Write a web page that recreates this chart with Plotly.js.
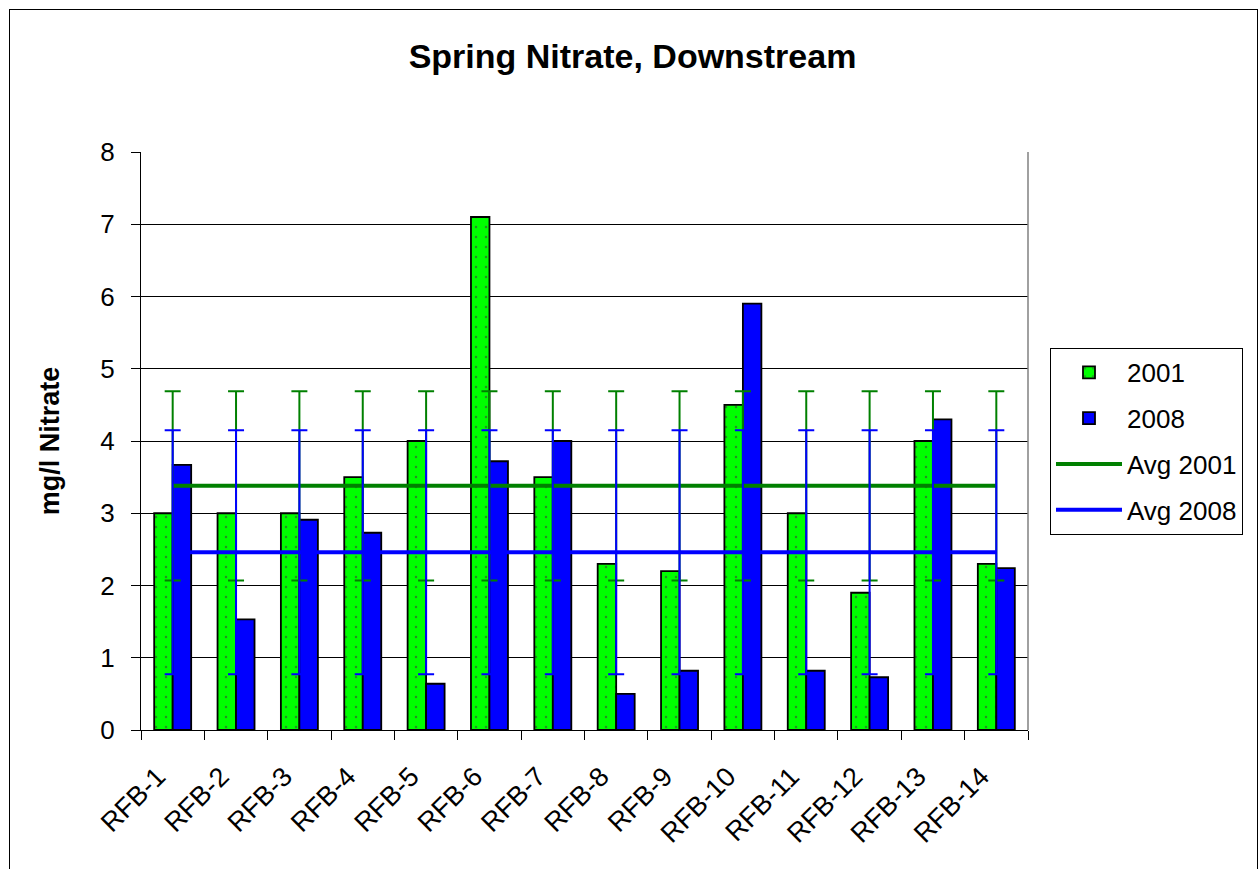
<!DOCTYPE html>
<html>
<head>
<meta charset="utf-8">
<script src="https://cdn.plot.ly/plotly-3.0.1.min.js"></script>
<style>
  html, body { margin: 0; padding: 0; background: #fff; overflow: hidden; }
  #wrap { position: relative; width: 1260px; height: 869px; }
  #chart { position: absolute; left: 0; top: 0; width: 1260px; height: 869px; }
  #frame { position: absolute; left: 9px; top: 9px; width: 1247px; height: 900px;
           border: 1px solid #000; pointer-events: none; }
</style>
</head>
<body>
<div id="wrap">
  <div id="chart"></div>
  <div id="frame"></div>
</div>
<script>
// ---- data ----
var categories = ['RFB-1', 'RFB-2', 'RFB-3', 'RFB-4', 'RFB-5', 'RFB-6', 'RFB-7',
                  'RFB-8', 'RFB-9', 'RFB-10', 'RFB-11', 'RFB-12', 'RFB-13', 'RFB-14'];
var nitrate2001 = [3.0, 3.0, 3.0, 3.5, 4.0, 7.1, 3.5, 2.3, 2.2, 4.5, 3.0, 1.9, 4.0, 2.3];
var nitrate2008 = [3.67, 1.53, 2.91, 2.73, 0.64, 3.72, 4.0, 0.5, 0.82, 5.9, 0.82, 0.73, 4.3, 2.24];
var avg2001 = [3.38, 3.38, 3.38, 3.38, 3.38, 3.38, 3.38, 3.38, 3.38, 3.38, 3.38, 3.38, 3.38, 3.38];
var sd2001  = [1.31, 1.31, 1.31, 1.31, 1.31, 1.31, 1.31, 1.31, 1.31, 1.31, 1.31, 1.31, 1.31, 1.31];
var avg2008 = [2.46, 2.46, 2.46, 2.46, 2.46, 2.46, 2.46, 2.46, 2.46, 2.46, 2.46, 2.46, 2.46, 2.46];
var sd2008  = [1.69, 1.69, 1.69, 1.69, 1.69, 1.69, 1.69, 1.69, 1.69, 1.69, 1.69, 1.69, 1.69, 1.69];
var yTicks = [0, 1, 2, 3, 4, 5, 6, 7, 8];

var FONT = 'Arial, "Liberation Sans", sans-serif';

var traces = [
  {
    type: 'bar', name: '2001', x: categories, y: nitrate2001,
    legendgroup: 'g1',
    marker: {
      color: '#00FF00',
      line: { color: '#000', width: 1.8 },
      pattern: { shape: '.', bgcolor: '#00FF00', fgcolor: '#2a8a2a', size: 10, solidity: 0.05, fillmode: 'replace' }
    },
    hoverinfo: 'x+y'
  },
  {
    type: 'bar', name: '2008', x: categories, y: nitrate2008,
    legendgroup: 'g2',
    marker: { color: '#0000FF', line: { color: '#000', width: 1.8 } },
    hoverinfo: 'x+y'
  },
  {
    type: 'scatter', mode: 'lines', name: 'Avg 2001', x: categories, y: avg2001,
    legendgroup: 'g3',
    line: { color: '#008000', width: 4 },
    error_y: { type: 'data', array: sd2001, visible: true, color: '#008000', thickness: 2, width: 8 }
  },
  {
    type: 'scatter', mode: 'lines', name: 'Avg 2008', x: categories, y: avg2008,
    legendgroup: 'g4',
    line: { color: '#0000FF', width: 4 },
    error_y: { type: 'data', array: sd2008, visible: true, color: '#0000FF', thickness: 2, width: 8 }
  }
];

var layout = {
  width: 1260, height: 869,
  margin: { l: 141, r: 232, t: 152, b: 139 },
  paper_bgcolor: '#fff', plot_bgcolor: '#fff',
  font: { family: FONT, color: '#000', size: 26 },
  showlegend: true,
  barmode: 'group', bargap: 0.416, bargroupgap: 0,
  title: {
    text: '<b>Spring Nitrate, Downstream</b>',
    font: { family: FONT, size: 34, color: '#000' },
    xref: 'container', x: 0.502, xanchor: 'center',
    yref: 'container', y: 0.936, yanchor: 'middle'
  },
  xaxis: {
    type: 'category', tickson: 'boundaries', range: [-0.5, 13.5],
    ticks: 'outside', ticklen: 9, tickcolor: '#000', tickwidth: 1,
    showline: true, linecolor: '#000', linewidth: 1,
    showgrid: false, zeroline: false,
    tickangle: -45, tickfont: { family: FONT, size: 27 },
    ticklabelstandoff: 19, ticklabelshift: -15,
    fixedrange: true
  },
  yaxis: {
    range: [0, 8], tickvals: yTicks, ticktext: yTicks.map(String),
    ticks: 'outside', ticklen: 9, tickcolor: '#000', tickwidth: 1,
    showline: true, linecolor: '#000', linewidth: 1,
    showgrid: true, gridcolor: '#000', gridwidth: 1,
    zeroline: false,
    tickfont: { family: FONT, size: 26 },
    ticklabelstandoff: 11,
    title: { text: '<b>mg/l Nitrate</b>', font: { family: FONT, size: 27 }, standoff: 32 },
    fixedrange: true
  },
  legend: {
    x: 1.0248, xanchor: 'left', y: 0.661, yanchor: 'top',
    bordercolor: '#000', borderwidth: 1, bgcolor: '#fff',
    font: { family: FONT, size: 26 },
    traceorder: 'grouped', tracegroupgap: 9,
    itemwidth: 66
  },
  shapes: [
    { type: 'line', xref: 'paper', yref: 'paper', x0: 1, x1: 1, y0: 0, y1: 1,
      line: { color: '#808080', width: 1.5 } }
  ]
};

Plotly.newPlot('chart', traces, layout, { displayModeBar: false, staticPlot: true });
</script>
</body>
</html>
